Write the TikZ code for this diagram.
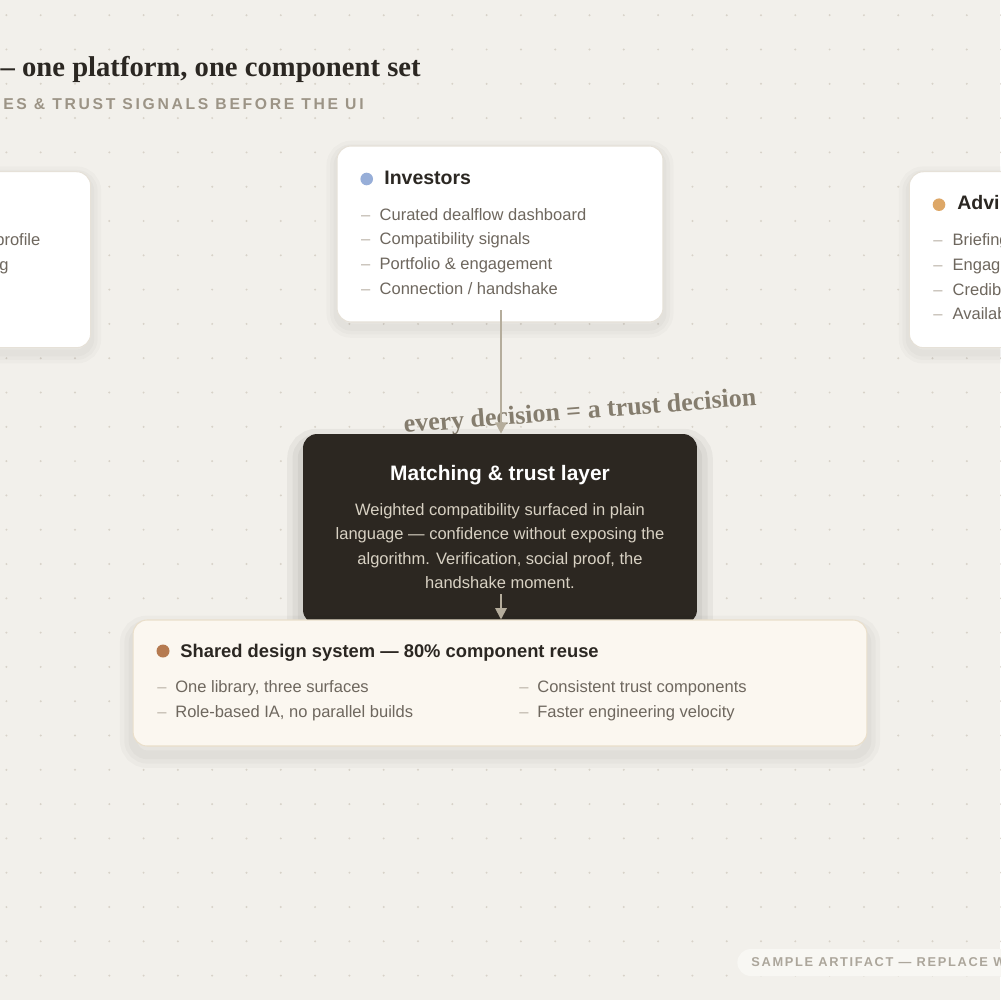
\documentclass[tikz,border=0pt]{standalone}
\usepackage{fontspec}
\setmainfont{Liberation Sans}
\newfontfamily\serifbold{Liberation Serif}
\newfontfamily\widecaps{Liberation Sans}[LetterSpace=17]
\newfontfamily\pillcaps{Liberation Sans}[LetterSpace=13]
\usetikzlibrary{arrows.meta}

\definecolor{paper}{HTML}{F2F0EB}
\definecolor{gridc}{HTML}{D8D2C8}
\definecolor{ink}{HTML}{2B2722}
\definecolor{subgrey}{HTML}{9C9486}
\definecolor{cardline}{HTML}{E6E1D8}
\definecolor{itemgrey}{HTML}{6E675E}
\definecolor{dashgrey}{HTML}{BAB3A7}
\definecolor{blueDot}{HTML}{97AED8}
\definecolor{orangeDot}{HTML}{DDA767}
\definecolor{brownDot}{HTML}{B57A50}
\definecolor{darkfill}{HTML}{2C2721}
\definecolor{darktext}{HTML}{D8D1C3}
\definecolor{sharedfill}{HTML}{FBF7F0}
\definecolor{sharedline}{HTML}{EADFCB}
\definecolor{arrowc}{HTML}{B5AD9C}
\definecolor{notec}{HTML}{857D6E}
\definecolor{pillfill}{HTML}{F8F7F3}
\definecolor{pillgrey}{HTML}{ACA69B}

\tikzset{
  halo/.style n args={3}{
    preaction={draw=black, draw opacity=#1, line width=#2*3, transform canvas={yshift=#3}},
    preaction={draw=black, draw opacity=#1, line width=#2*2, transform canvas={yshift=#3}},
    preaction={draw=black, draw opacity=#1, line width=#2, transform canvas={yshift=#3}}},
  card/.style={draw=cardline, line width=0.6pt, fill=white, rounded corners=0.28cm,
    minimum width=6.52cm, minimum height=3.52cm, inner sep=0pt, halo={0.018}{4pt}{-3pt}},
  cardhead/.style={anchor=base west, inner sep=0pt, text=ink, font=\bfseries\fontsize{11.1}{13}\selectfont},
  item/.style={anchor=base west, inner sep=0pt, text=itemgrey, font=\fontsize{9.4}{11}\selectfont},
  dashmark/.style={item, text=dashgrey},
  flowarrow/.style={draw=arrowc, line width=1.1pt, -{Triangle[length=6.5pt, width=6.5pt]}},
}

\begin{document}
\begin{tikzpicture}[x=0.02cm, y=-0.02cm,
  darkbox/.style={fill=darkfill, rounded corners=0.28cm, minimum width=7.88cm, minimum height=3.8cm, inner sep=0pt,
    halo={0.045}{6pt}{-6pt}},
  sharedbox/.style={draw=sharedline, line width=0.6pt, fill=sharedfill, rounded corners=0.28cm,
    minimum width=14.68cm, minimum height=2.52cm, inner sep=0pt, halo={0.022}{5pt}{-5pt}},
  annot/.style={anchor=base, inner sep=0pt, text=notec, font=\serifbold\bfseries\fontsize{14.8}{17}\selectfont},
  darkline/.style={anchor=base, inner sep=0pt, text=darktext, font=\fontsize{9.4}{11}\selectfont},
  pill/.style={anchor=west, fill=pillfill, rounded corners=0.27cm, minimum height=0.54cm, inner xsep=0.28cm, inner ysep=0pt,
    text=pillgrey, font=\pillcaps\bfseries\fontsize{7.3}{9}\selectfont}]
% Page
\fill[paper] (0,0) rectangle (1000,1000);
\useasboundingbox (0,0) rectangle (1000,1000);
% Dot grid
\foreach \i in {0,...,29}
  \foreach \j in {0,...,28}
    \fill[gridc] ({6.4+34.3*\i},{15.2+34.3*\j}) circle (0.022cm);
% Title
\node[anchor=base east, inner sep=0pt, text=ink, font=\serifbold\bfseries\fontsize{16.3}{19}\selectfont]
  (title) at (421,76.7) {– one platform, one component set};
\node[anchor=base east, inner sep=0pt, text=subgrey, font=\widecaps\bfseries\fontsize{8.95}{11}\selectfont]
  (subtitle) at (364,109.5) {ES \& TRUST SIGNALS BEFORE THE UI};
% Left card (cut off)
\node[card] (left) at (-72.3,259.7) {};
\node[item, anchor=base east] (left1) at (40.7,245.7) {profile};
\node[item, anchor=base east] (left2) at (9,270.4) {g};
% Investors
\node[card] (inv) at (500,234) {};
\fill[blueDot] (366.7,179) circle (0.126cm);
\node[cardhead] (invT) at (384,184.3) {Investors};
\foreach \t [count=\n] in {Curated dealflow dashboard, Compatibility signals, Portfolio \& engagement, Connection / handshake}{
  \node[dashmark] (invD\n) at (360.7,{220+24.7*(\n-1)}) {–};
  \node[item] (inv\n) at (379.3,{220+24.7*(\n-1)}) {\t};
}
% Right card (cut off)
\node[card] (adv) at (1072.3,259.7) {};
\fill[orangeDot] (939,204.7) circle (0.126cm);
\node[cardhead] (advT) at (957,210) {Advi};
\foreach \t [count=\n] in {Briefing, Engag, Credib, Availab}{
  \node[dashmark] (advD\n) at (933,{245.7+24.7*(\n-1)}) {–};
  \node[item] (adv\n) at (952.3,{245.7+24.7*(\n-1)}) {\t};
}
% Annotation
\node[annot, rotate=4.5] (note) at (580.5,419) {every decision = a trust decision};
% Matching layer
\node[darkbox] (match) at (500,529) {};
\node[anchor=base, inner sep=0pt, text=white, font=\bfseries\fontsize{11.9}{14}\selectfont]
  (matchT) at (500,480) {Matching \& trust layer};
\foreach \t [count=\n] in {Weighted compatibility surfaced in plain, language — confidence without exposing the,
    {algorithm. Verification, social proof, the}, handshake moment.}
  \node[darkline] (matchL\n) at (500,{515+24.5*(\n-1)}) {\t};
% Shared design system
\node[sharedbox] (shared) at (500,683) {};
\fill[brownDot] (163,651) circle (0.13cm);
\node[cardhead, font=\bfseries\fontsize{10.45}{12}\selectfont] (sharedT) at (180,657.5)
  {Shared design system — 80\% component reuse};
\foreach \t [count=\n] in {{One library, three surfaces}, {Role-based IA, no parallel builds}}{
  \node[dashmark] (sharedDa\n) at (157,{692+25*(\n-1)}) {–};
  \node[item] (sharedA\n) at (175,{692+25*(\n-1)}) {\t};
}
\foreach \t [count=\n] in {Consistent trust components, Faster engineering velocity}{
  \node[dashmark] (sharedDb\n) at (519,{692+25*(\n-1)}) {–};
  \node[item] (sharedB\n) at (537,{692+25*(\n-1)}) {\t};
}
% Connectors
\coordinate (invOut) at (501,310);
\coordinate (matchOut) at (501,594);
\draw[flowarrow] (invOut) -- (invOut |- match.north);
\draw[flowarrow] (matchOut) -- (matchOut |- shared.north);
% Footer
\node[pill] (foot) at (737,962.5) {SAMPLE ARTIFACT — REPLACE W};
\end{tikzpicture}
\end{document}
